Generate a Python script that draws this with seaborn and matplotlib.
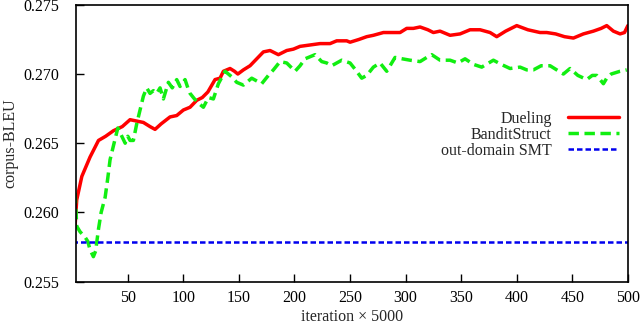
import numpy as np
import pandas as pd
import seaborn as sns
import matplotlib.pyplot as plt

# values (iteration x 5000, corpus-BLEU)
dueling_iter = [2.6, 4, 8.6, 16, 23.6, 30, 37, 45, 52, 58, 64, 70, 74.5, 80, 88, 94, 100,
                106, 112, 117, 122, 128.5, 133, 136, 142, 146, 149, 154, 160, 166, 172, 178,
                185.5, 193, 199, 205, 214, 223, 232, 238, 247, 250, 258, 265, 271, 280, 288,
                295, 301, 307, 313, 320, 325, 331, 340, 349, 358, 367, 376, 382, 390, 400,
                410, 421, 427, 435, 443, 451, 460, 469, 476, 481, 487, 493, 497, 500]
dueling_bleu = [0.2591, 0.2609, 0.2626, 0.2640, 0.2652, 0.2655, 0.2659, 0.2662, 0.2667,
                0.2666, 0.2665, 0.2662, 0.2660, 0.2664, 0.2669, 0.2670, 0.2674, 0.2676,
                0.2681, 0.2683, 0.2687, 0.2696, 0.2697, 0.2702, 0.2704, 0.2702, 0.2700,
                0.2703, 0.2706, 0.2711, 0.2716, 0.2717, 0.2714, 0.2717, 0.2718, 0.2720,
                0.2721, 0.2722, 0.2722, 0.2724, 0.2724, 0.2723, 0.2725, 0.2727, 0.2728,
                0.2730, 0.2730, 0.2730, 0.2733, 0.2733, 0.2734, 0.2732, 0.2730, 0.2731,
                0.2728, 0.2729, 0.2732, 0.2732, 0.2730, 0.2727, 0.2731, 0.2735, 0.2732,
                0.2730, 0.2730, 0.2729, 0.2727, 0.2726, 0.2729, 0.2731, 0.2733, 0.2735,
                0.2731, 0.2729, 0.2730, 0.2735]

bandit_iter = [2.6, 4, 7, 11.6, 14, 16, 19, 21, 23.6, 26, 29.6, 32, 34, 37, 41, 44, 47.6,
               50, 52, 55, 58, 61, 64, 67, 70, 73, 76, 79, 82, 86.5, 90, 94, 97, 101.5,
               104, 106, 110, 113.5, 118, 122.5, 127, 131.5, 137.5, 143.5, 148, 154,
               161.5, 166, 170.5, 176.5, 181, 187, 193, 200.5, 205, 209.5, 218.5, 224.5,
               229, 233.5, 242.5, 250, 255, 260.5, 265, 271, 277, 283, 290.5, 297, 304,
               313, 319, 323.5, 331, 340, 347, 353.5, 361, 368.5, 379, 386, 394, 403,
               409, 415, 422, 430, 436, 442, 448, 455, 463, 468, 472, 478, 481, 485,
               489, 493, 499]
bandit_bleu = [0.2614, 0.2590, 0.2586, 0.2582, 0.2579, 0.2573, 0.2568, 0.2572, 0.2588,
               0.2600, 0.2611, 0.2625, 0.2638, 0.2648, 0.2661, 0.2656, 0.2650, 0.2655,
               0.2652, 0.2652, 0.2664, 0.2674, 0.2684, 0.2690, 0.2686, 0.2688, 0.2686,
               0.2690, 0.2682, 0.2694, 0.2690, 0.2696, 0.2691, 0.2696, 0.2690, 0.2686,
               0.2682, 0.2679, 0.2676, 0.2683, 0.2682, 0.2693, 0.2702, 0.2698, 0.2694,
               0.2692, 0.2697, 0.2695, 0.2693, 0.2699, 0.2703, 0.2709, 0.2708, 0.2702,
               0.2706, 0.2711, 0.2714, 0.2709, 0.2708, 0.2706, 0.2710, 0.2708, 0.2703,
               0.2697, 0.2699, 0.2705, 0.2708, 0.2702, 0.2712, 0.2711, 0.2710, 0.2709,
               0.2712, 0.2714, 0.2710, 0.2710, 0.2708, 0.2711, 0.2707, 0.2705, 0.2710,
               0.2707, 0.2704, 0.2705, 0.2703, 0.2703, 0.2706, 0.2706, 0.2703, 0.2700,
               0.2704, 0.2699, 0.2696, 0.2699, 0.2699, 0.2693, 0.2697, 0.2700, 0.2701,
               0.2702, 0.2703]

smt_iter = [0, 500]
smt_bleu = [0.25786, 0.25786]

x_ticks = [50, 100, 150, 200, 250, 300, 350, 400, 450, 500]
y_ticks = [0.255, 0.260, 0.265, 0.270, 0.275]

# %%
sns.set_style('white')
plt.rcParams['font.family'] = ['Liberation Serif', 'DejaVu Serif']

fig = plt.figure(figsize=(6.4, 3.24), dpi=100)
ax = fig.add_axes([0.119, 0.131, 0.862, 0.854])

sns.lineplot(x=dueling_iter, y=dueling_bleu, ax=ax, color='#ff0000', lw=2.5,
             label='Dueling')
sns.lineplot(x=bandit_iter, y=bandit_bleu, ax=ax, color='#11ee11', lw=2.5,
             label='BanditStruct')
ax.lines[-1].set_dashes([3, 1.6])
sns.lineplot(x=smt_iter, y=smt_bleu, ax=ax, color='#0000ee', lw=1.8,
             label='out-domain SMT')
ax.lines[-1].set_dashes([2.2, 1.2])

ax.set_xlim(3.5, 500)
ax.set_ylim(0.255, 0.275)
ax.set_xticks(x_ticks)
ax.set_yticks(y_ticks)
ax.set_yticklabels([f'{v:.3f}' for v in y_ticks])
ax.tick_params(axis='both', direction='in', length=6, width=1, labelsize=11.5,
               colors='black', right=False, top=False, left=True, bottom=True)
ax.tick_params(axis='y', pad=12)
ax.tick_params(axis='x', pad=6)

for s in ax.spines.values():
    s.set_color('black')
    s.set_linewidth(1.2)

ax.set_xlabel('iteration × 5000', fontsize=11.5, labelpad=2)
ax.set_ylabel('corpus-BLEU', fontsize=11.5, labelpad=4)

ax.legend(loc='upper right', bbox_to_anchor=(0.995, 0.64), frameon=False,
          markerfirst=False, fontsize=11.5, handlelength=3.2, handletextpad=1.0,
          labelspacing=0.0, borderaxespad=0)

fig.savefig('out.png', dpi=100)
